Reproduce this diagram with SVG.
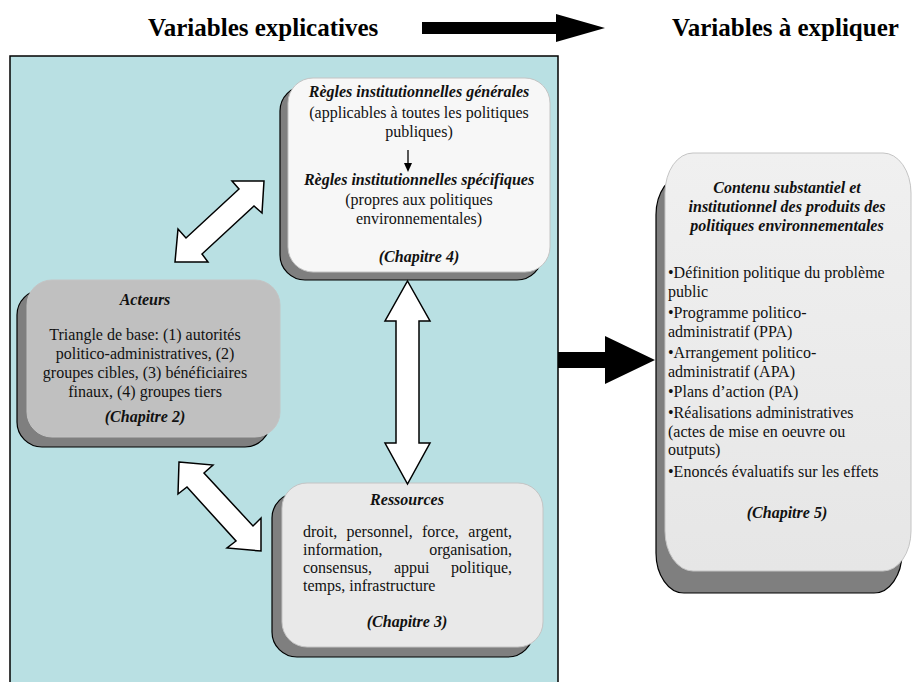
<svg xmlns="http://www.w3.org/2000/svg" width="915" height="682" viewBox="0 0 915 682" font-family="Liberation Serif, Times New Roman, serif">
  <defs>
    <style>
      .t { font-size: 16px; fill: #111; }
      .bi { font-size: 16px; font-weight: bold; font-style: italic; fill: #111; }
      .hd { font-size: 25px; font-weight: bold; fill: #000; }
      .mid { text-anchor: middle; }
      .end { text-anchor: end; }
      .depth { fill: #7f7f7f; stroke: #000; stroke-width: 1.2; }
      .face { stroke: #c4c4c4; stroke-width: 1; }
      .dbl { fill: #fff; stroke: #000; stroke-width: 1.5; stroke-linejoin: miter; }
    </style>
    <linearGradient id="gOut" x1="0" y1="0" x2="0" y2="1">
      <stop offset="0" stop-color="#f0f0f0"/>
      <stop offset="1" stop-color="#e6e6e6"/>
    </linearGradient>
  </defs>

  <!-- heading: explanatory variables -> variables to explain -->
  <g id="header">
    <text class="hd" x="148" y="36">Variables explicatives</text>
    <polygon points="422,22 556,22 556,14 605,28 556,42 556,34 422,34" fill="#000"/>
    <text class="hd" x="672" y="36">Variables à expliquer</text>
  </g>

  <!-- frame holding the explanatory variables -->
  <g id="frame">
    <rect x="10" y="56" width="548" height="640" fill="#b9e0e3" stroke="#000" stroke-width="1.5"/>
  </g>

  <!-- institutional rules -->
  <g id="node-regles">
    <rect class="depth" x="280" y="86" width="262" height="194" rx="25" ry="25"/>
    <rect class="face" x="288" y="78" width="262" height="194" rx="25" ry="25" fill="#f7f7f7"/>
    <text class="bi mid" x="419" y="97">Règles institutionnelles générales</text>
    <text class="t mid" x="419" y="118">(applicables à toutes les politiques</text>
    <text class="t mid" x="419" y="137">publiques)</text>
    <line x1="408" y1="150" x2="408" y2="164" stroke="#000" stroke-width="1.3"/>
    <polygon points="404,163 412,163 408,172" fill="#000"/>
    <text class="bi mid" x="419" y="185">Règles institutionnelles spécifiques</text>
    <text class="t mid" x="419" y="205">(propres aux politiques</text>
    <text class="t mid" x="419" y="224">environnementales)</text>
    <text class="bi mid" x="419" y="262">(Chapitre 4)</text>
  </g>

  <!-- actors -->
  <g id="node-acteurs">
    <rect class="depth" x="17" y="290" width="253" height="157" rx="25" ry="25"/>
    <rect class="face" x="27" y="280" width="253" height="157" rx="25" ry="25" fill="#c0c0c0" stroke="#b0b0b0"/>
    <text class="bi mid" x="145" y="305">Acteurs</text>
    <text class="t mid" x="145" y="340">Triangle de base: (1) autorités</text>
    <text class="t mid" x="145" y="359">politico-administratives, (2)</text>
    <text class="t mid" x="145" y="378">groupes cibles, (3) bénéficiaires</text>
    <text class="t mid" x="145" y="397">finaux, (4) groupes tiers</text>
    <text class="bi mid" x="145" y="422">(Chapitre 2)</text>
  </g>

  <!-- resources -->
  <g id="node-ressources">
    <rect class="depth" x="272" y="493" width="261" height="164" rx="25" ry="25"/>
    <rect class="face" x="282" y="483" width="261" height="164" rx="25" ry="25" fill="#e9e9e9"/>
    <text class="bi mid" x="407" y="505">Ressources</text>
    <text class="t" x="303" y="537">droit,</text>
    <text class="t" x="346.5" y="537">personnel,</text>
    <text class="t" x="422" y="537">force,</text>
    <text class="t end" x="512" y="537">argent,</text>
    <text class="t" x="303" y="555">information,</text>
    <text class="t end" x="512" y="555">organisation,</text>
    <text class="t" x="303" y="573">consensus,</text>
    <text class="t" x="394" y="573">appui</text>
    <text class="t end" x="512" y="573">politique,</text>
    <text class="t" x="303" y="591">temps, infrastructure</text>
    <text class="bi mid" x="407" y="627">(Chapitre 3)</text>
  </g>

  <!-- outputs of environmental policies -->
  <g id="node-produits">
    <path class="depth" d="M 684 175 H 874 A 28 40 0 0 1 902 215 V 553 A 28 40 0 0 1 874 593 H 684 A 28 40 0 0 1 656 553 V 215 A 28 40 0 0 1 684 175 Z"/>
    <path class="face" d="M 693 153 H 883 A 28 40 0 0 1 911 193 V 531 A 28 40 0 0 1 883 571 H 693 A 28 40 0 0 1 665 531 V 193 A 28 40 0 0 1 693 153 Z" fill="url(#gOut)"/>
    <text class="bi mid" x="787" y="193">Contenu substantiel et</text>
    <text class="bi mid" x="787" y="212">institutionnel des produits des</text>
    <text class="bi mid" x="787" y="231">politiques environnementales</text>
    <text class="t" x="668" y="278">•Définition politique du problème</text>
    <text class="t" x="668" y="297">public</text>
    <text class="t" x="668" y="318">•Programme politico-</text>
    <text class="t" x="668" y="337">administratif (PPA)</text>
    <text class="t" x="668" y="358">•Arrangement politico-</text>
    <text class="t" x="668" y="377">administratif (APA)</text>
    <text class="t" x="668" y="397">•Plans d’action (PA)</text>
    <text class="t" x="668" y="418">•Réalisations administratives</text>
    <text class="t" x="668" y="437">(actes de mise en oeuvre ou</text>
    <text class="t" x="668" y="455">outputs)</text>
    <text class="t" x="668" y="477">•Enoncés évaluatifs sur les effets</text>
    <text class="bi mid" x="787" y="518">(Chapitre 5)</text>
  </g>

  <!-- connectors -->
  <g id="connectors">
    <!-- acteurs <-> règles -->
    <polygon class="dbl" points="264,181 262,213 254,206 202,254 208,262 175,262 178,229 186,238 239,189 232,181"/>
    <!-- règles <-> ressources -->
    <polygon class="dbl" points="407.5,281 430,321 419,321 419,443 430,443 407.5,484 385,443 396,443 396,321 385,321"/>
    <!-- acteurs <-> ressources -->
    <polygon class="dbl" points="179,462 213,465 204,473 253,526 261,518 261,551 227,548 236,541 187,487 178,494"/>
    <!-- explanatory frame -> outputs -->
    <polygon points="558,352 605,352 605,336 655,360 605,384 605,368 558,368" fill="#000"/>
  </g>
</svg>
